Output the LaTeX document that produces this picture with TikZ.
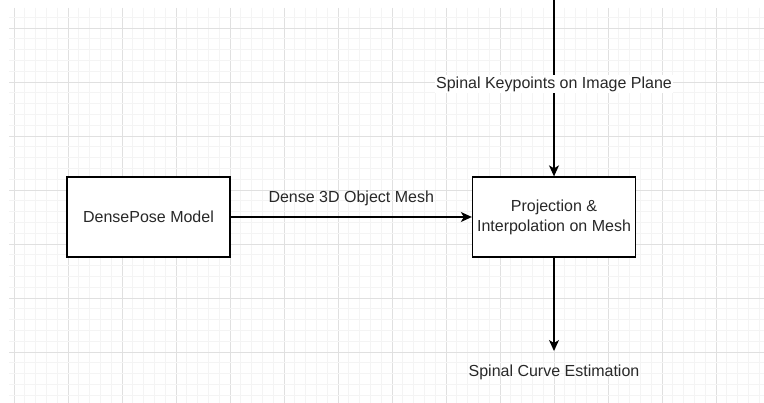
\documentclass[tikz,border=0pt]{standalone}
\usepackage{fontspec}
\setmainfont{Liberation Sans}
\usetikzlibrary{arrows.meta}
\definecolor{gridmajor}{RGB}{224,224,224}
\definecolor{gridminor}{RGB}{244,244,244}
\definecolor{txt}{RGB}{40,40,40}
\tikzset{
  box/.style={draw=black, line width=1.3pt, fill=white, minimum width=163pt, minimum height=80pt,
    inner sep=2pt, align=center, text=txt, font=\fontsize{16}{20}\selectfont},
  lbl/.style={text=txt, font=\fontsize{16}{20}\selectfont, inner sep=1.5pt},
  conn/.style={line width=1.3pt, -{Stealth[length=11pt,width=10pt,inset=3pt]}},
}
\begin{document}
\begin{tikzpicture}[x=1pt,y=-1pt]
\useasboundingbox (0,0) rectangle (764,403);
\fill[white] (0,0) rectangle (764,403);
% grid
\begin{scope}
\clip (9,8) rectangle (764,403);
\foreach \i in {0,...,69}{
  \pgfmathtruncatemacro{\m}{mod(\i,5)}
  \ifnum\m=0
    \draw[gridmajor, line width=0.9pt] ({14+10.8*\i},8) -- ({14+10.8*\i},403);
  \else
    \draw[gridminor, line width=0.7pt] ({14+10.8*\i},8) -- ({14+10.8*\i},403);
  \fi
}
\foreach \j in {-1,...,34}{
  \pgfmathtruncatemacro{\m}{mod(\j+5,5)}
  \ifnum\m=0
    \draw[gridmajor, line width=0.9pt] (9,{28+10.8*\j}) -- (764,{28+10.8*\j});
  \else
    \draw[gridminor, line width=0.7pt] (9,{28+10.8*\j}) -- (764,{28+10.8*\j});
  \fi
}
\end{scope}
% nodes
\node[box] (dp) at (148.5,217) {DensePose Model};
\node[box] (proj) at (554,217) {Projection \&\\Interpolation on Mesh};
\coordinate (topin) at (554,0);
\coordinate (botout) at (554,351);
% connectors
\draw[conn] (dp.east) -- node[lbl, above=9pt] (l1) {Dense 3D Object Mesh} (proj.west);
\draw[conn] (topin) -- (proj.north);
\node[lbl, fill=white] (l2) at (554,84) {Spinal Keypoints on Image Plane};
\draw[conn] (proj.south) -- (botout);
\node[lbl] (l3) at (554,372) {Spinal Curve Estimation};
\end{tikzpicture}
\end{document}
